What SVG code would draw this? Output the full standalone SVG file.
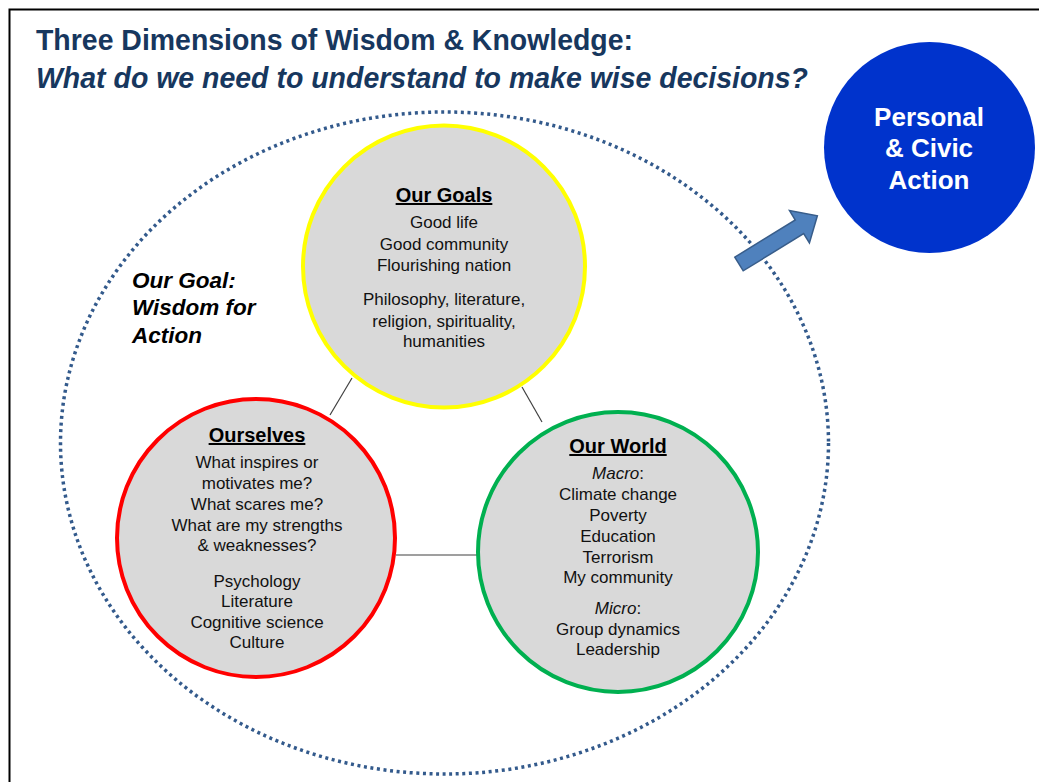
<svg xmlns="http://www.w3.org/2000/svg" width="1039" height="782" viewBox="0 0 1039 782">
  <style>
    .title { font-family: "Liberation Sans", Arial, sans-serif; font-weight: bold; fill: #17375e; font-size: 30px; }
    .body { font-family: "Liberation Sans", Arial, sans-serif; font-size: 17px; fill: #111; text-anchor: middle; }
    .head { font-family: "Liberation Sans", Arial, sans-serif; font-size: 20px; font-weight: bold; fill: #000; text-anchor: middle; text-decoration: underline; }
    .dim { fill: #d9d9d9; stroke-width: 4; }
    .conn { stroke: #404040; stroke-width: 1.2; fill: none; }
  </style>
  <rect x="0" y="0" width="1039" height="782" fill="#ffffff"/>
  <path d="M9.5 782 V9.5 H1039" fill="none" stroke="#000" stroke-width="2"/>

  <g id="title">
    <text class="title" x="36" y="50" textLength="597" lengthAdjust="spacingAndGlyphs">Three Dimensions of Wisdom &amp; Knowledge:</text>
    <text class="title" x="36" y="88" font-style="italic" textLength="772" lengthAdjust="spacingAndGlyphs">What do we need to understand to make wise decisions?</text>
  </g>

  <g id="outer-boundary">
    <ellipse cx="444.5" cy="443" rx="384" ry="331" fill="none" stroke="#335a8c" stroke-width="3.5" stroke-dasharray="3 3.6"/>
  </g>

  <g id="goal-label" font-family="Liberation Sans, Arial, sans-serif" font-size="22.5" font-weight="bold" font-style="italic" fill="#000">
    <text x="132" y="288">Our Goal:</text>
    <text x="132" y="315">Wisdom for</text>
    <text x="132" y="343">Action</text>
  </g>

  <g id="connectors">
    <line class="conn" x1="352" y1="378" x2="330" y2="415"/>
    <line class="conn" x1="522" y1="387" x2="542" y2="422"/>
    <line class="conn" x1="396" y1="555" x2="477" y2="555"/>
    <polygon points="0,-8 71,-8 71,-19 92,0 71,19 71,8 0,8" transform="translate(739,264) rotate(-31.6)" fill="#4f81bd" stroke="#385d8a" stroke-width="1.5"/>
  </g>

  <g id="our-goals">
    <circle class="dim" cx="444" cy="266.5" r="141" stroke="#ffff00"/>
    <text class="head" x="444" y="202">Our Goals</text>
    <text class="body" x="444" y="228">Good life</text>
    <text class="body" x="444" y="250">Good community</text>
    <text class="body" x="444" y="271">Flourishing nation</text>
    <text class="body" x="444" y="305">Philosophy, literature,</text>
    <text class="body" x="444" y="327">religion, spirituality,</text>
    <text class="body" x="444" y="347">humanities</text>
  </g>

  <g id="ourselves">
    <circle class="dim" cx="256" cy="538" r="139" stroke="#ff0000"/>
    <text class="head" x="257" y="442">Ourselves</text>
    <text class="body" x="257" y="468">What inspires or</text>
    <text class="body" x="257" y="489">motivates me?</text>
    <text class="body" x="257" y="510">What scares me?</text>
    <text class="body" x="257" y="531">What are my strengths</text>
    <text class="body" x="257" y="551">&amp; weaknesses?</text>
    <text class="body" x="257" y="587">Psychology</text>
    <text class="body" x="257" y="607">Literature</text>
    <text class="body" x="257" y="628">Cognitive science</text>
    <text class="body" x="257" y="648">Culture</text>
  </g>

  <g id="our-world">
    <circle class="dim" cx="618" cy="552" r="140" stroke="#00b050"/>
    <text class="head" x="618" y="453">Our World</text>
    <text class="body" x="618" y="479"><tspan font-style="italic">Macro</tspan>:</text>
    <text class="body" x="618" y="500">Climate change</text>
    <text class="body" x="618" y="521">Poverty</text>
    <text class="body" x="618" y="542">Education</text>
    <text class="body" x="618" y="563">Terrorism</text>
    <text class="body" x="618" y="583">My community</text>
    <text class="body" x="618" y="614"><tspan font-style="italic">Micro</tspan>:</text>
    <text class="body" x="618" y="635">Group dynamics</text>
    <text class="body" x="618" y="655">Leadership</text>
  </g>

  <g id="personal-civic-action">
    <circle cx="929.5" cy="147.5" r="105.5" fill="#0033cc"/>
    <g font-family="Liberation Sans, Arial, sans-serif" font-size="26" font-weight="bold" fill="#ffffff" text-anchor="middle">
      <text x="929" y="126">Personal</text>
      <text x="929" y="157">&amp; Civic</text>
      <text x="929" y="189">Action</text>
    </g>
  </g>
</svg>
